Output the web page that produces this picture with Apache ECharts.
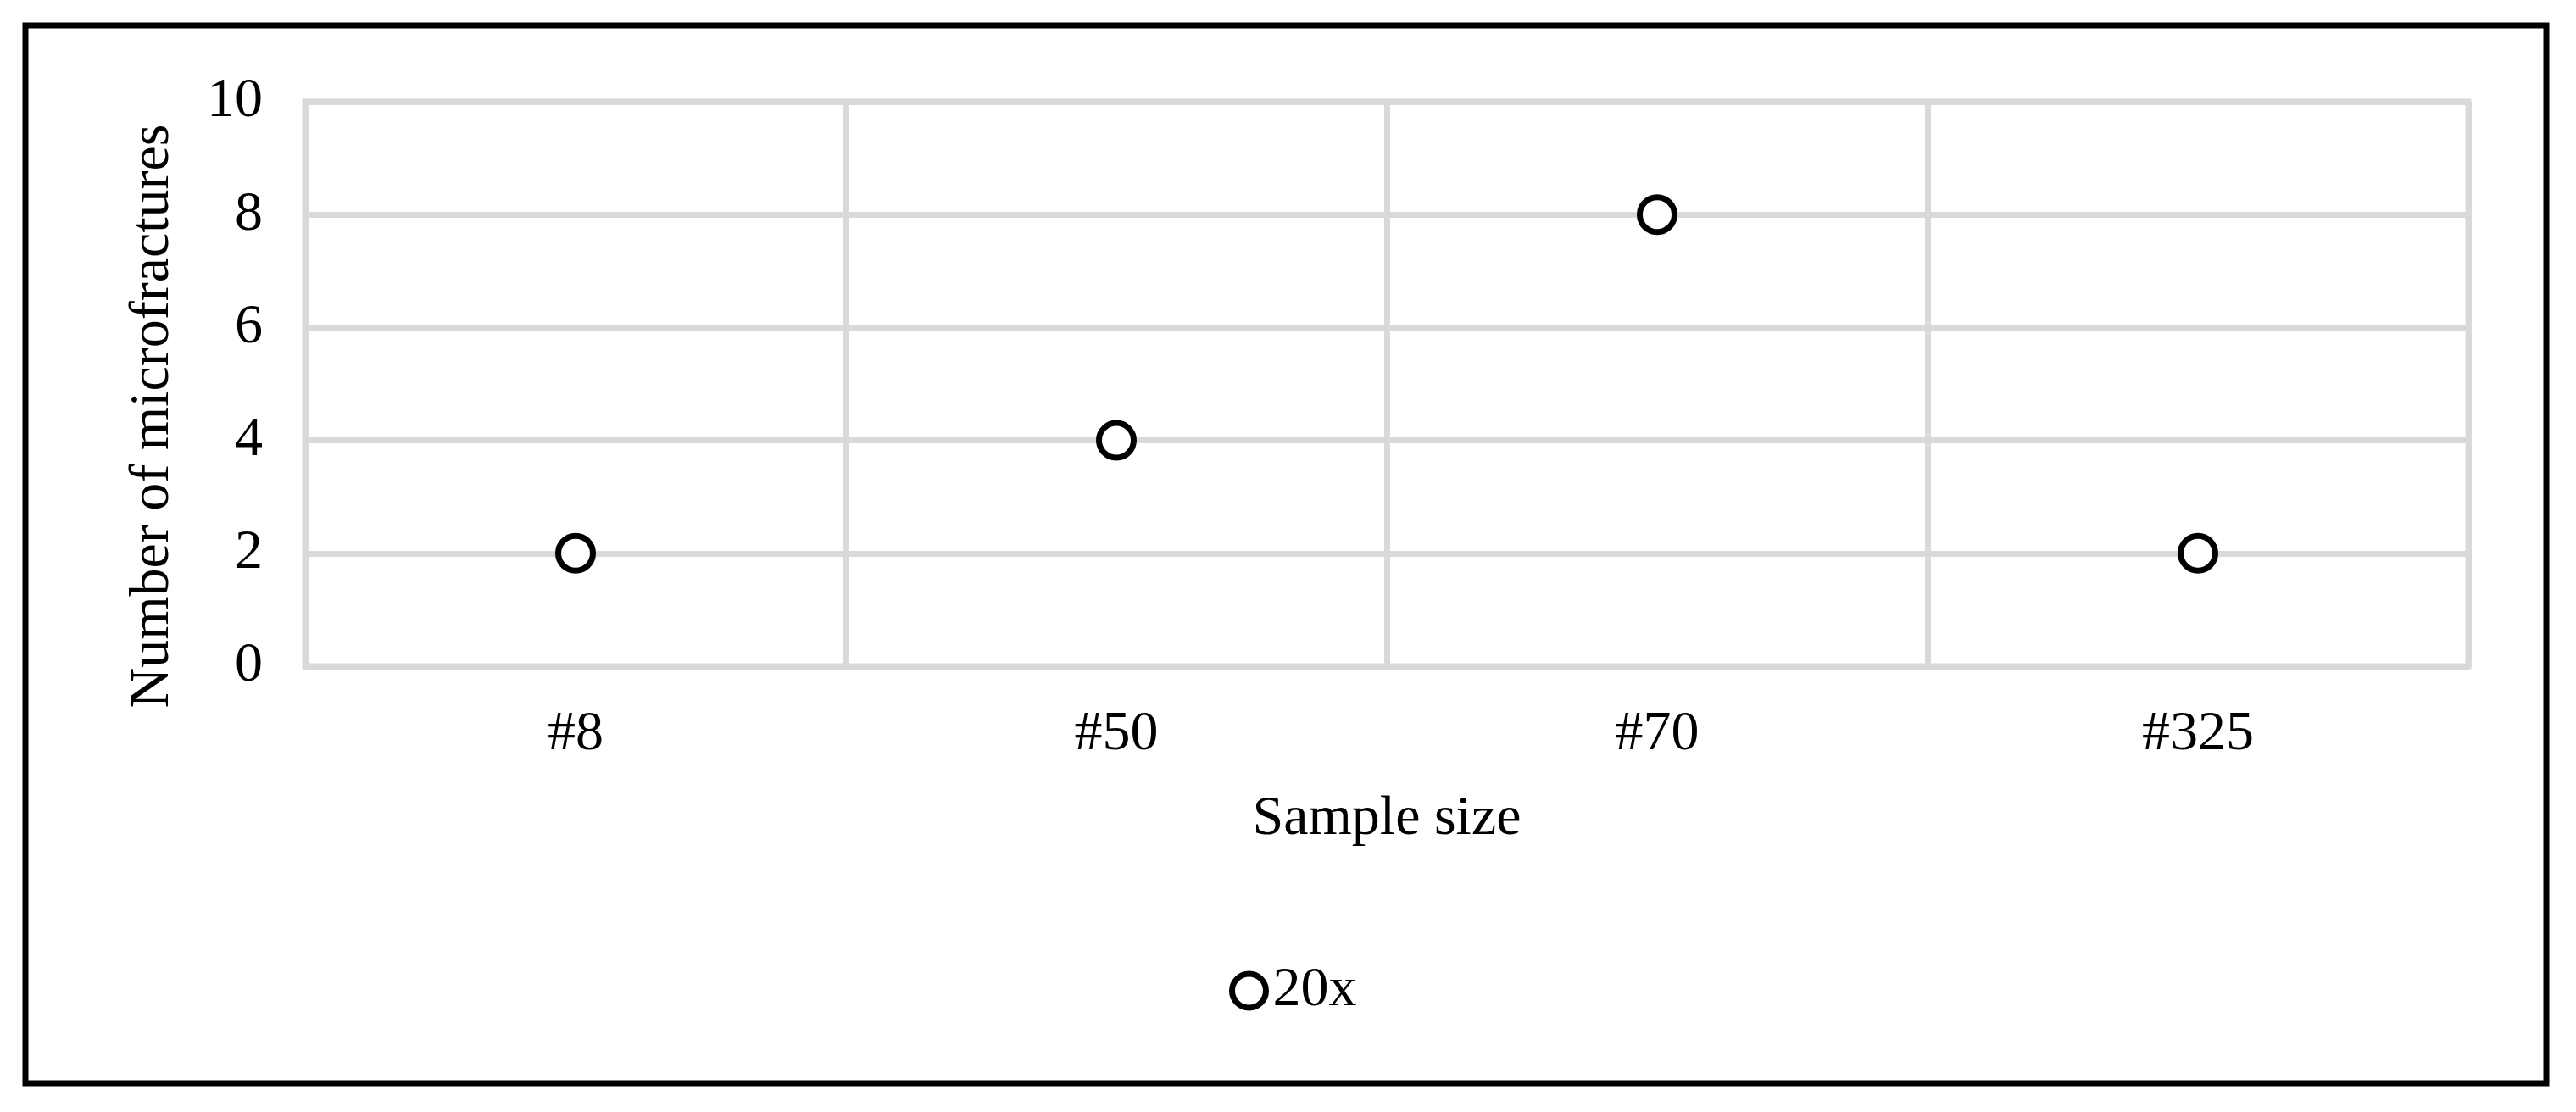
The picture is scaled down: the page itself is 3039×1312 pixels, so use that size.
<!DOCTYPE html>
<html>
<head>
<meta charset="utf-8">
<script src="https://cdn.jsdelivr.net/npm/echarts@6/dist/echarts.min.js"></script>
<style>
  html, body { margin: 0; padding: 0; background: #fff; }
  #chart { width: 3039px; height: 1312px; }
</style>
</head>
<body>
<div id="chart"></div>
<script>
// chart data
const categories = ['#8', '#50', '#70', '#325']
const seriesName = '20x'
const values = [2, 4, 8, 2]
const yMin = 0
const yMax = 10
const yStep = 2

const font = 'Liberation Serif, Times New Roman, serif'
const gridColor = '#d9d9d9'

const chart = echarts.init(document.getElementById('chart'))

const option = {
  animation: false,
  backgroundColor: '#fff',
  textStyle: { fontFamily: font },
  graphic: [
    {
      // outer frame
      type: 'rect',
      shape: { x: 30, y: 30, width: 2974, height: 1248 },
      style: { fill: 'none', stroke: '#000', lineWidth: 7 },
      silent: true
    }
  ],
  grid: {
    left: 360,
    top: 120,
    width: 2552,
    height: 666,
    show: true,
    borderColor: gridColor,
    borderWidth: 7
  },
  legend: {
    data: [seriesName],
    left: 1445,
    top: 1131,
    itemWidth: 40,
    itemHeight: 40,
    icon: 'circle',
    itemStyle: { color: '#fff', borderColor: '#000', borderWidth: 7 },
    textStyle: { fontFamily: font, fontSize: 66, color: '#000', padding: [0, 0, 0, 3] }
  },
  xAxis: {
    type: 'category',
    data: categories,
    name: 'Sample size',
    nameLocation: 'middle',
    nameGap: 148,
    nameTextStyle: { fontFamily: font, fontSize: 66, color: '#000' },
    axisLine: { show: false },
    axisTick: { show: false },
    axisLabel: { margin: 48, fontFamily: font, fontSize: 66, color: '#000' },
    splitLine: { show: true, lineStyle: { color: gridColor, width: 7 } }
  },
  yAxis: {
    type: 'value',
    min: yMin,
    max: yMax,
    interval: yStep,
    name: 'Number of microfractures',
    nameLocation: 'middle',
    nameGap: 146,
    nameTextStyle: { fontFamily: font, fontSize: 66, color: '#000', padding: [0, 76, 0, 0] },
    axisLine: { show: false },
    axisTick: { show: false },
    axisLabel: { margin: 50, fontFamily: font, fontSize: 66, color: '#000' },
    splitLine: { show: true, lineStyle: { color: gridColor, width: 7 } }
  },
  series: [
    {
      name: seriesName,
      type: 'scatter',
      data: values,
      symbol: 'circle',
      symbolSize: 41,
      itemStyle: { color: '#fff', borderColor: '#000', borderWidth: 7, opacity: 1 }
    }
  ]
}

chart.setOption(option)
</script>
</body>
</html>
